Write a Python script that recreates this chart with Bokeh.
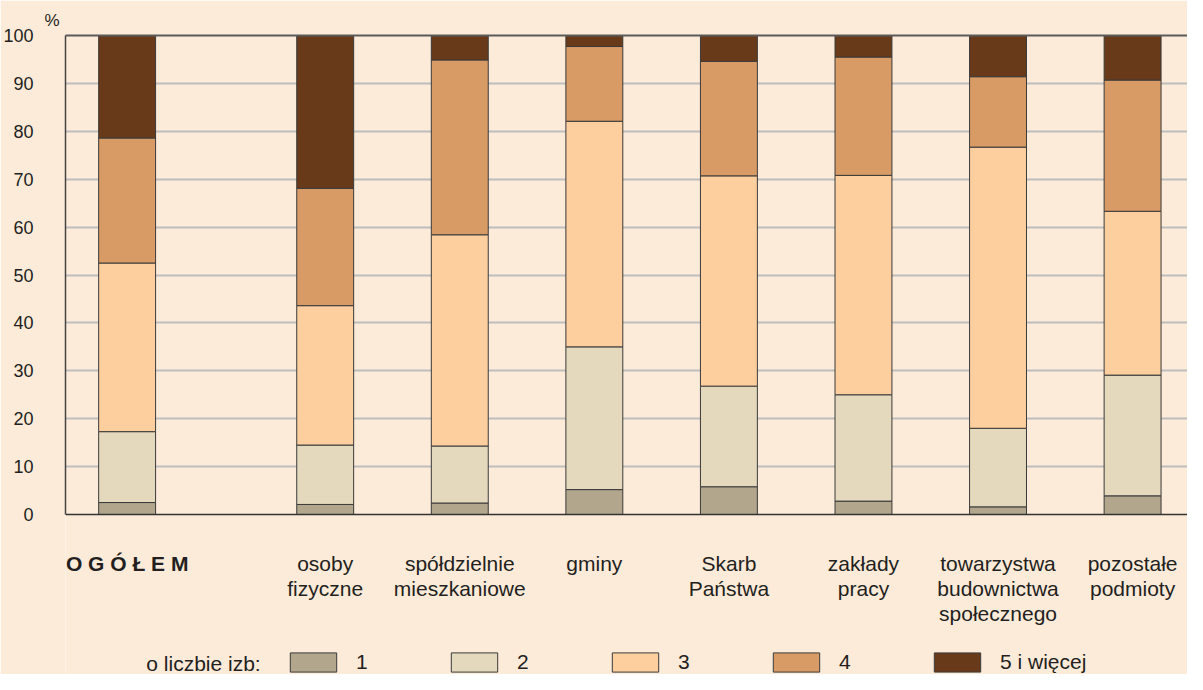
from bokeh.plotting import figure
from bokeh.models import (Label, Legend, LegendItem, LinearAxis, FixedTicker,
                          ColumnDataSource, Range1d, Span, Title)
from bokeh.embed import file_html
from bokeh.resources import INLINE

# ---------------- data ----------------
categories = ["O G Ó Ł E M", "osoby\nfizyczne", "spółdzielnie\nmieszkaniowe", "gminy",
              "Skarb\nPaństwa", "zakłady\npracy", "towarzystwa\nbudownictwa\nspołecznego",
              "pozostałe\npodmioty"]
rooms_1 = [2.5, 2.1, 2.4, 5.2, 5.8, 2.8, 1.6, 3.9]
rooms_2 = [14.8, 12.4, 11.9, 29.8, 21.0, 22.2, 16.4, 25.2]
rooms_3 = [35.2, 29.1, 44.1, 47.1, 43.9, 45.8, 58.7, 34.2]
rooms_4 = [26.1, 24.5, 36.5, 15.6, 23.9, 24.7, 14.7, 27.4]
rooms_5 = [21.4, 31.9, 5.1, 2.3, 5.4, 4.5, 8.6, 9.3]
series_names = ["1", "2", "3", "4", "5 i więcej"]
y_ticks = list(range(0, 101, 10))
legend_title = "o liczbie izb:"
unit_label = "%"

# ---------------- style ----------------
colors = ["#b2a68d", "#e4d9bd", "#fecf9e", "#d89b66", "#683a1a"]
BG = "#fdebd9"
FONT = "Liberation Sans"
TXT = "#231f20"
GAP = 1.472          # extra slot after the total bar
BAR_W = 0.423

xs = [0.0] + [GAP + k for k in range(len(categories) - 1)]

source = ColumnDataSource(dict(x=xs, r1=rooms_1, r2=rooms_2, r3=rooms_3,
                               r4=rooms_4, r5=rooms_5))

p = figure(width=1187, height=674, output_backend="svg", toolbar_location=None,
           x_range=Range1d(-0.458, 7.880), y_range=Range1d(-33.40, 100),
           min_border_left=58, min_border_right=0, min_border_top=35,
           min_border_bottom=0)
p.background_fill_color = BG
p.border_fill_color = BG
p.outline_line_color = None

renderers = p.vbar_stack(["r1", "r2", "r3", "r4", "r5"], x="x", width=BAR_W,
                         source=source, fill_color=colors,
                         line_color="#3a3a3a", line_width=1)

# axes
p.xaxis.visible = False

p.yaxis.ticker = FixedTicker(ticks=y_ticks)
p.yaxis.bounds = (0, 100)
p.yaxis.major_tick_line_color = None
p.yaxis.minor_tick_line_color = None
p.yaxis.axis_line_color = "#444444"
p.yaxis.axis_line_width = 1.5
p.yaxis.major_label_text_font = FONT
p.yaxis.major_label_text_font_size = "18px"
p.yaxis.major_label_text_color = TXT
p.yaxis.major_label_standoff = 26

top_axis = LinearAxis(ticker=FixedTicker(ticks=[]), major_label_text_font_size="0px",
                      axis_line_color="#5a5a5a", axis_line_width=2,
                      major_tick_line_color=None, minor_tick_line_color=None)
p.add_layout(top_axis, "above")

p.xgrid.visible = False
p.ygrid.ticker = FixedTicker(ticks=y_ticks[1:-1])
p.ygrid.grid_line_color = "#bdbdbd"
p.ygrid.grid_line_width = 2

p.add_layout(Span(location=0, dimension="width", line_color="#333333",
                  line_width=1.5))

# unit label as title
p.add_layout(Title(text=unit_label, align="left", offset=-21, standoff=12,
                   text_font=FONT, text_font_size="17px", text_color=TXT,
                   text_font_style="normal"), "above")

# category labels
for i, (x, name) in enumerate(zip(xs, categories)):
    p.add_layout(Label(x=x, y=-7.8, text=name, text_align="center",
                       text_baseline="top", text_font=FONT,
                       text_font_size="21px", text_color=TXT,
                       text_line_height=1.1,
                       text_font_style="bold" if i == 0 else "normal"))

# legend (vbar legend swatch is drawn at 80% of the glyph box)
legend = Legend(items=[LegendItem(label=n, renderers=[r]) for n, r in zip(series_names, renderers)],
                orientation="horizontal", location=(219, 0),
                glyph_width=58, glyph_height=24, label_standoff=14,
                label_width=83, spacing=6, padding=0, margin=0,
                border_line_color=None, background_fill_alpha=0,
                label_text_font=FONT, label_text_font_size="21px",
                label_text_color=TXT, label_text_baseline="middle")
p.add_layout(legend)

p.add_layout(Label(x=0.1425, y=-31.2, text=legend_title, text_align="left",
                   text_baseline="middle", text_font=FONT, text_font_size="21px",
                   text_color=TXT))

open("out.html", "w").write(file_html(p, INLINE))
